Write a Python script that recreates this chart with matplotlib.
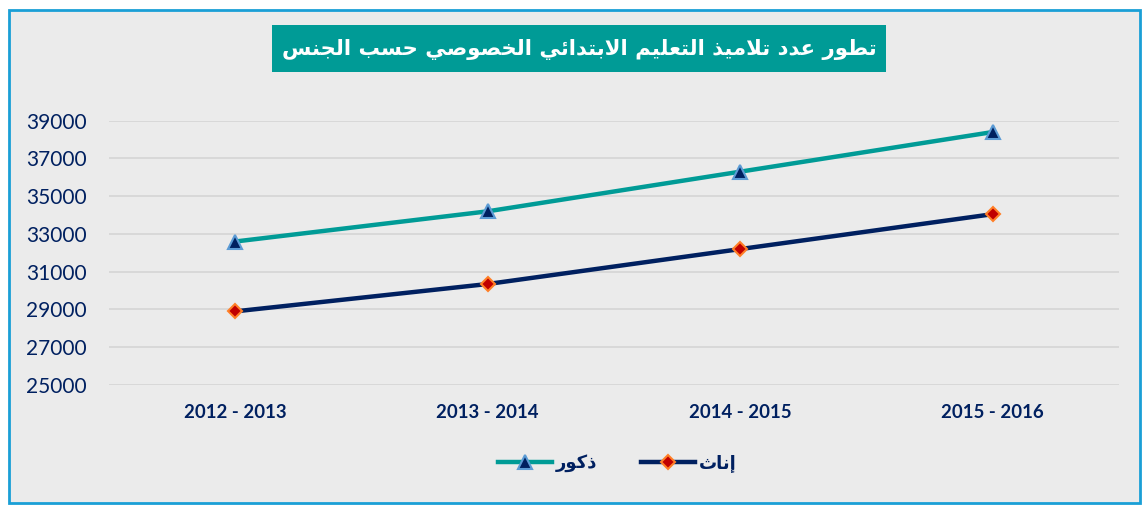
import matplotlib
matplotlib.use('Agg')
import matplotlib.pyplot as plt
from matplotlib.patches import Rectangle
from matplotlib.lines import Line2D

# البيانات
categories = ['2012 - 2013', '2013 - 2014', '2014 - 2015', '2015 - 2016']
males = [32600, 34200, 36300, 38400]
females = [28900, 30350, 32200, 34050]
y_ticks = [25000, 27000, 29000, 31000, 33000, 35000, 37000, 39000]

title = 'تطور عدد تلاميذ التعليم الابتدائي الخصوصي حسب الجنس'
label_m = 'ذكور'
label_f = 'إناث'

# أشكال الحروف: منفصل، نهائي، ابتدائي، وسطي
FORMS = {
    'ا': ('\ufe8d', '\ufe8e', None, None),
    'إ': ('\ufe87', '\ufe88', None, None),
    'ئ': ('\ufe89', '\ufe8a', '\ufe8b', '\ufe8c'),
    'ب': ('\ufe8f', '\ufe90', '\ufe91', '\ufe92'),
    'ت': ('\ufe95', '\ufe96', '\ufe97', '\ufe98'),
    'ث': ('\ufe99', '\ufe9a', '\ufe9b', '\ufe9c'),
    'ج': ('\ufe9d', '\ufe9e', '\ufe9f', '\ufea0'),
    'ح': ('\ufea1', '\ufea2', '\ufea3', '\ufea4'),
    'خ': ('\ufea5', '\ufea6', '\ufea7', '\ufea8'),
    'د': ('\ufea9', '\ufeaa', None, None),
    'ذ': ('\ufeab', '\ufeac', None, None),
    'ر': ('\ufead', '\ufeae', None, None),
    'س': ('\ufeb1', '\ufeb2', '\ufeb3', '\ufeb4'),
    'ص': ('\ufeb9', '\ufeba', '\ufebb', '\ufebc'),
    'ط': ('\ufec1', '\ufec2', '\ufec3', '\ufec4'),
    'ع': ('\ufec9', '\ufeca', '\ufecb', '\ufecc'),
    'ك': ('\ufed9', '\ufeda', '\ufedb', '\ufedc'),
    'ل': ('\ufedd', '\ufede', '\ufedf', '\ufee0'),
    'م': ('\ufee1', '\ufee2', '\ufee3', '\ufee4'),
    'ن': ('\ufee5', '\ufee6', '\ufee7', '\ufee8'),
    'و': ('\ufeed', '\ufeee', None, None),
    'ي': ('\ufef1', '\ufef2', '\ufef3', '\ufef4'),
}
LAM_ALEF = {'ا': ('\ufefb', '\ufefc'), 'إ': ('\ufef9', '\ufefa')}


def joins_next(c):
    return c in FORMS and FORMS[c][2] is not None


def shape(text):
    """ربط الحروف وعكس الاتجاه"""
    chars = list(text)
    n = len(chars)
    out = []
    i = 0
    while i < n:
        c = chars[i]
        if c not in FORMS:
            out.append(c)
            i += 1
            continue
        link_prev = i > 0 and joins_next(chars[i - 1])
        if c == 'ل' and i + 1 < n and chars[i + 1] in LAM_ALEF:
            lig = LAM_ALEF[chars[i + 1]]
            out.append(lig[1] if link_prev else lig[0])
            i += 2
            continue
        link_next = joins_next(c) and i + 1 < n and chars[i + 1] in FORMS
        iso, fin, ini, med = FORMS[c]
        if link_prev and link_next:
            out.append(med)
        elif link_prev:
            out.append(fin)
        elif link_next:
            out.append(ini)
        else:
            out.append(iso)
        i += 1
    return ''.join(reversed(out))


W, H = 1142, 505
navy = '#002060'
teal = '#009b96'

fig = plt.figure(figsize=(W / 100, H / 100), dpi=100)
fig.patch.set_facecolor('white')

# الخلفية والإطار
fig.add_artist(Rectangle((9 / W, 2 / H), 1131 / W, 493 / H, transform=fig.transFigure,
                         facecolor='#ebebeb', edgecolor='#1a9fd6', linewidth=2, zorder=0))

ax = fig.add_axes([109 / W, 1 - 385 / H, 1010 / W, 264.3 / H])
ax.set_facecolor('none')
x = list(range(len(categories)))

ax.plot(x, males, color=teal, linewidth=3.2, marker='^', markersize=10,
        markerfacecolor=navy, markeredgecolor='#5b9bd5', markeredgewidth=1.5, zorder=3)
ax.plot(x, females, color=navy, linewidth=3.2, marker='D', markersize=7.5,
        markerfacecolor='#c00000', markeredgecolor='#ff7f27', markeredgewidth=1.5, zorder=3)

ax.set_xlim(-0.5, len(categories) - 0.5)
ax.set_ylim(y_ticks[0], y_ticks[-1])
ax.set_yticks(y_ticks)
ax.set_xticks(x)
ax.set_xticklabels(categories, fontfamily='Lato', fontweight='bold', fontsize=13.4, color=navy)
ax.tick_params(axis='y', length=0, pad=15.8, labelsize=15, labelcolor=navy)
ax.tick_params(axis='x', length=0, pad=14)
for lab in ax.get_yticklabels():
    lab.set_fontfamily('Lato')
ax.grid(axis='y', color='#d6d6d6', linewidth=1.3)
for s in ax.spines.values():
    s.set_visible(False)

# العنوان
fig.add_artist(Rectangle((272 / W, 1 - 72 / H), 614 / W, 47 / H, transform=fig.transFigure,
                         facecolor=teal, edgecolor='none', zorder=1))
fig.text(579 / W, 1 - 49 / H, shape(title), ha='center', va='center', color='white',
         fontsize=15.3, fontweight='bold', family=['DejaVu Sans'], zorder=2)

# وسيلة الإيضاح
handles = [
    Line2D([], [], color=teal, linewidth=3.2, marker='^', markersize=10,
           markerfacecolor=navy, markeredgecolor='#5b9bd5', markeredgewidth=1.5),
    Line2D([], [], color=navy, linewidth=3.2, marker='D', markersize=7.5,
           markerfacecolor='#c00000', markeredgecolor='#ff7f27', markeredgewidth=1.5),
]
leg = fig.legend(handles, [shape(label_m), shape(label_f)], loc='center',
                 bbox_to_anchor=(617 / W, 1 - 463 / H), ncol=2, frameon=False,
                 handlelength=3, handletextpad=0.2, columnspacing=2.45,
                 prop={'family': 'DejaVu Sans', 'weight': 'bold', 'size': 13})
for t in leg.get_texts():
    t.set_color(navy)

fig.savefig('out.png', dpi=100)
